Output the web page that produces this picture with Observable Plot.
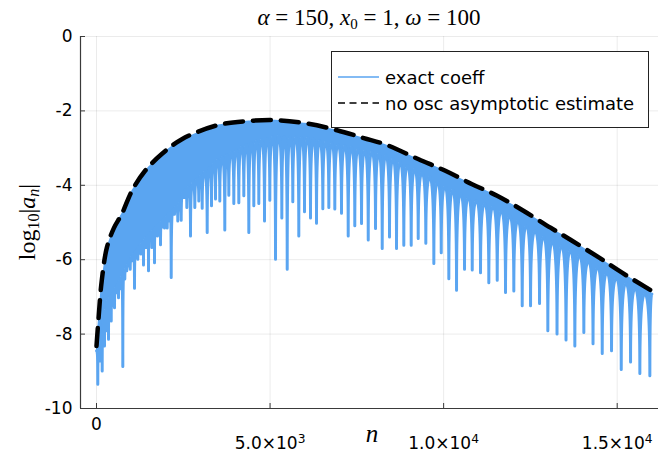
<!DOCTYPE html>
<html><head><meta charset="utf-8">
<script src="https://cdn.jsdelivr.net/npm/d3@7"></script>
<script src="https://cdn.jsdelivr.net/npm/@observablehq/plot@0.6"></script>
<style>body{margin:0;background:#fff} svg{display:block}</style>
</head><body><div id="chart"></div>
<script>
// "no osc asymptotic estimate" (dashed)
const estN   = [0, 60, 150, 300, 500, 730, 1020, 1400, 1880, 2460, 3500, 4400, 5200, 6070, 6930, 7700, 8320, 9280, 10050, 10820, 11540, 12310, 13080, 13700, 14470, 15140, 16000];
const estLog = [-8.32, -7.56, -6.57, -5.67, -5.15, -4.77, -4.15, -3.61, -3.16, -2.76, -2.38, -2.27, -2.25, -2.34, -2.52, -2.73, -2.90, -3.30, -3.61, -3.97, -4.28, -4.69, -5.14, -5.49, -5.94, -6.35, -6.84];

// "exact coeff": positions and depths of the dips, and the level of the arch before each dip
const dipN = [37,101,164,230,288,346,424,475,519,576, 634,691,758,815,873,922,971,1037,1095,1144,
  1190,1239,1276,1317,1354,1397,1432,1469,1498,1547, 1593,1634,1671,1714,1757,1801,1844,1901,1959,1997,
  2037,2094,2152,2247,2342,2440,2527,2602,2708,2832, 2947,3045,3189,3313,3428,3552,3696,3812,3956,4100,
  4244,4388,4532,4676,4840,4993,5157,5339,5494,5655, 5828,5992,6165,6338,6520,6693,6865,7058,7251,7441,
  7635,7828,8038,8231,8441,8643,8853,9066,9268,9487, 9718,9931,10150,10372,10602,10824,11063,11302,11544,11783,
  12022,12264,12504,12763,13002,13267,13526,13780,14039,14304, 14569,14837,15117,15385,15653,15941];
const dipLog = [-9.35,-8.72,-8.99,-8.32,-7.91,-8.14,-7.65,-7.24,-7.29,-6.89, -7.02,-6.78,-8.87,-6.52,-6.30,-6.17,-6.26,-6.03,-6.77,-5.90,
  -5.99,-5.76,-5.85,-5.71,-6.14,-5.58,-5.67,-5.52,-6.30,-5.44, -5.67,-5.39,-6.08,-5.28,-5.36,-5.20,-5.60,-5.12,-5.15,-5.01,
  -5.15,-4.96,-6.48,-4.78,-4.96,-4.94,-4.33,-4.60,-5.36,-4.60, -4.42,-4.62,-5.27,-4.55,-4.37,-4.42,-5.20,-4.27,-4.49,-4.47,
  -4.28,-5.27,-4.55,-4.49,-4.96,-4.40,-5.99,-4.88,-6.26,-4.44, -5.36,-4.71,-4.88,-5.02,-4.63,-4.60,-4.64,-4.75,-5.36,-5.09,
  -5.03,-5.47,-5.16,-5.70,-5.39,-5.70,-5.61,-5.61,-5.43,-5.56, -6.10,-5.81,-6.51,-6.82,-6.26,-6.28,-6.35,-6.62,-6.55,-6.88,
  -6.84,-7.24,-7.24,-7.18,-7.91,-8.00,-8.16,-8.32,-7.96,-8.26, -8.52,-8.45,-8.95,-8.75,-9.06,-9.12];
const archLog = [-8.50,-8.28,-7.99,-7.66,-7.33,-7.09,-6.99,-6.91,-6.85,-6.76, -6.66,-6.56,-6.45,-6.33,-6.23,-6.13,-6.03,-5.93,-5.85,-5.78,
  -5.72,-5.66,-5.61,-5.57,-5.52,-5.47,-5.42,-5.39,-5.36,-5.32, -5.27,-5.22,-5.18,-5.14,-5.10,-5.06,-5.02,-4.97,-4.91,-4.87,
  -4.83,-4.78,-4.73,-4.65,-4.57,-4.48,-4.18,-4.11,-4.03,-3.93, -3.83,-3.74,-3.63,-3.52,-3.41,-3.31,-3.24,-3.18,-3.11,-3.04,
  -2.97,-2.90,-2.85,-2.81,-2.77,-2.74,-2.70,-2.67,-2.69,-2.70, -2.71,-2.72,-2.73,-2.76,-2.80,-2.83,-2.86,-2.90,-2.94,-2.98,
  -3.02,-3.06,-3.10,-3.14,-3.19,-3.28,-3.37,-3.47,-3.56,-3.66, -3.78,-3.90,-4.02,-4.12,-4.22,-4.32,-4.41,-4.49,-4.57,-4.68,
  -4.81,-4.95,-5.08,-5.23,-5.38,-5.52,-5.63,-5.74,-5.88,-6.04, -6.20,-6.34,-6.49,-6.63,-6.77,-6.92];
const startN = 0, startLog = -8.45;
const endN = 16000, endLog = -6.92;

const xTicks = [0, 5000, 10000, 15000];
const xTickLabels = ["0", "5.0×10^3", "1.0×10^4", "1.5×10^4"];
const yTicks = [-10, -8, -6, -4, -2, 0];
const yTickLabels = ["-10", "-8", "-6", "-4", "-2", "0"];
const seriesNames = ["exact coeff", "no osc asymptotic estimate"];

const blue = "#5aa5f1";
const xDomain = [-461, 16190];
const yDomain = [-10, 0];

// rows for the exact-coefficient series (arch top, dip, arch top, dip, ...)
const estInterp = d3.scaleLinear().domain(estN).range(estLog).clamp(true);
const rows = [{n: startN, v: startLog}];
dipN.forEach((n, i) => {
  const prev = i === 0 ? startN : dipN[i - 1];
  rows.push({n: (prev + n) / 2, v: archLog[i]});
  rows.push({n, v: dipLog[i]});
});
rows.push({n: endN, v: endLog});
rows.forEach(r => r.top = estInterp(r.n));
const estRows = estN.map((n, i) => ({n, v: estLog[i]}));

// curve: flat at arch tops, vertical into the dips (log|cos|-like cusps)
function cusp(context) {
  let line, pt, x0, y0;
  return {
    areaStart() { line = 0; },
    areaEnd() { line = NaN; },
    lineStart() { pt = 0; },
    lineEnd() { if (line || (line !== 0 && pt === 1)) context.closePath(); line = 1 - line; },
    point(x, y) {
      x = +x; y = +y;
      if (pt === 0) { pt = 1; line ? context.lineTo(x, y) : context.moveTo(x, y); }
      else {
        pt = 2;
        if (line === 0) context.lineTo(x, y);
        else if (y > y0) context.quadraticCurveTo(x, y0, x, y);
        else context.quadraticCurveTo(x0, y, x, y);
      }
      x0 = x; y0 = y;
    }
  };
}

const xLab = new Map(xTicks.map((t, i) => [t, xTickLabels[i]]));
const yLab = new Map(yTicks.map((t, i) => [t, yTickLabels[i]]));
const W = 660, H = 453, mL = 80, mR = 2, mT = 36, mB = 45;
const axisColor = "#3a3a3a";

const plot = Plot.plot({
  width: W, height: H,
  marginLeft: mL, marginRight: mR, marginTop: mT, marginBottom: mB,
  style: {fontFamily: "DejaVu Sans", fontSize: "17px", color: "#000", background: "#fff", overflow: "visible"},
  x: {domain: xDomain},
  y: {domain: yDomain},
  marks: [
    Plot.gridX(xTicks, {stroke: "#000", strokeOpacity: 0.08, strokeWidth: 1}),
    Plot.gridY(yTicks, {stroke: "#000", strokeOpacity: 0.08, strokeWidth: 1}),
    Plot.areaY(rows, {x: "n", y1: "v", y2: "top", fill: blue, curve: cusp}),
    Plot.line(rows, {x: "n", y: "v", stroke: blue, strokeWidth: 3, curve: cusp}),
    Plot.line(estRows, {x: "n", y: "v", stroke: "#000", strokeWidth: 4.5, strokeDasharray: "18,10", curve: "catmull-rom"}),
    Plot.ruleX([xDomain[0]], {stroke: axisColor, strokeWidth: 1.2}),
    Plot.ruleY([yDomain[0]], {stroke: axisColor, strokeWidth: 1.2}),
    Plot.tickY(yTicks, {y: d => d, stroke: axisColor, insetRight: W - mL - mR - 5}),
    Plot.tickX(xTicks, {x: d => d, stroke: axisColor, insetTop: H - mT - mB - 5}),
    Plot.axisY({ticks: yTicks, tickSize: 0, tickPadding: 8, tickFormat: d => yLab.get(d), label: null, fontSize: 17}),
    Plot.axisX({ticks: xTicks, tickSize: 0, tickPadding: 9, tickFormat: d => xLab.get(d), label: null, fontSize: 17})
  ]
});
document.getElementById("chart").appendChild(plot);

const svg = d3.select(plot);
// superscript exponents in x tick labels (these sit lower, as in the reference)
svg.selectAll('g[aria-label="x-axis tick label"] text').each(function () {
  const t = this.textContent;
  if (t.includes("^")) {
    const [base, ex] = t.split("^");
    const el = d3.select(this);
    el.text(null).attr("dy", "1.15em");
    el.append("tspan").text(base);
    el.append("tspan").text(ex).attr("dy", "-0.5em").attr("font-size", "0.72em");
  }
});

const serif = "'Liberation Serif', 'DejaVu Serif', serif";
// title
const title = svg.append("text").attr("x", (mL + W - mR) / 2).attr("y", 25)
  .attr("text-anchor", "middle").attr("font-family", serif).attr("font-size", 23).attr("fill", "#000");
title.append("tspan").attr("font-style", "italic").text("α");
title.append("tspan").text(" = 150, ");
title.append("tspan").attr("font-style", "italic").text("x");
title.append("tspan").attr("font-size", 15).attr("dy", 4).text("0");
title.append("tspan").attr("dy", -4).text(" = 1, ");
title.append("tspan").attr("font-style", "italic").text("ω");
title.append("tspan").text(" = 100");

// y label
const yl = svg.append("text").attr("transform", `translate(35,${(mT + H - mB) / 2}) rotate(-90)`)
  .attr("text-anchor", "middle").attr("font-family", serif).attr("font-size", 24).attr("fill", "#000");
yl.append("tspan").text("log");
yl.append("tspan").attr("font-size", 16).attr("dy", 4).text("10");
yl.append("tspan").attr("dy", -4).text("|");
yl.append("tspan").attr("font-style", "italic").text("a");
yl.append("tspan").attr("font-style", "italic").attr("font-size", 16).attr("dy", 4).text("n");
yl.append("tspan").attr("dy", -4).text("|");

// x label
svg.append("text").attr("x", 372).attr("y", 442).attr("text-anchor", "middle")
  .attr("font-family", serif).attr("font-style", "italic").attr("font-size", 25).attr("fill", "#000").text("n");

// legend
const lg = svg.append("g").attr("text-anchor", "start");
lg.append("rect").attr("x", 331.5).attr("y", 51.5).attr("width", 317).attr("height", 76)
  .attr("fill", "#fff").attr("stroke", "#222").attr("stroke-width", 1);
lg.append("line").attr("x1", 338).attr("x2", 379).attr("y1", 77).attr("y2", 77).attr("stroke", blue).attr("stroke-width", 1.6);
lg.append("line").attr("x1", 338).attr("x2", 379).attr("y1", 103).attr("y2", 103).attr("stroke", "#000").attr("stroke-width", 1.6).attr("stroke-dasharray", "7,4.5");
lg.append("text").attr("x", 385).attr("y", 84).attr("text-anchor", "start").attr("font-family", "DejaVu Sans").attr("font-size", 18).attr("fill", "#000").text(seriesNames[0]);
lg.append("text").attr("x", 385).attr("y", 110).attr("text-anchor", "start").attr("font-family", "DejaVu Sans").attr("font-size", 18).attr("fill", "#000").text(seriesNames[1]);
</script>
</body></html>
